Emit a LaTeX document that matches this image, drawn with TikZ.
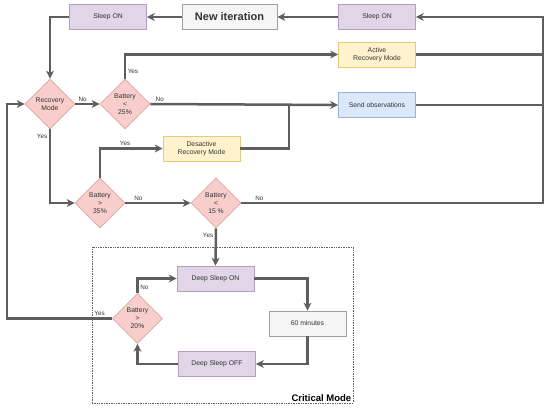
\documentclass[tikz,border=0pt]{standalone}
\usepackage{fontspec}
\setmainfont{Liberation Sans}
\usetikzlibrary{arrows.meta,positioning,calc,shapes.geometric}
\definecolor{lnclr}{HTML}{5E5E5E}
\definecolor{txclr}{HTML}{333333}
\definecolor{dmfill}{HTML}{F8CECC}
\definecolor{dmdraw}{HTML}{E0A4A0}
\definecolor{pufill}{HTML}{E1D5E7}
\definecolor{pudraw}{HTML}{B49EC4}
\definecolor{yefill}{HTML}{FFF2CC}
\definecolor{yedraw}{HTML}{E3CB7E}
\definecolor{blfill}{HTML}{DAE8FC}
\definecolor{bldraw}{HTML}{9AB2D8}
\definecolor{grfill}{HTML}{F5F5F5}
\definecolor{grdraw}{HTML}{A0A0A0}

\begin{document}
\begin{tikzpicture}[
  x=1pt,y=-1pt,
  font=\fontsize{6.8}{8}\selectfont,
  box/.style={draw,line width=0.7pt,text=txclr,minimum width=77pt,minimum height=25pt,
              align=center,inner sep=1pt},
  purp/.style={box,draw=pudraw,fill=pufill},
  yell/.style={box,draw=yedraw,fill=yefill},
  blue/.style={box,draw=bldraw,fill=blfill},
  grey/.style={box,draw=grdraw,fill=grfill},
  dec/.style={diamond,draw=dmdraw,fill=dmfill,line width=0.7pt,text=txclr,minimum width=50pt,
              minimum height=50pt,inner sep=0pt,align=center},
  ln/.style={lnclr,line width=2.5pt},
  ar/.style={ln,-{Stealth[length=8pt,width=8pt,inset=2.5pt]}},
  lbl/.style={text=txclr,inner sep=1.5pt,font=\fontsize{6.3}{7}\selectfont}
]
\useasboundingbox (0,0) rectangle (550,409);

% top row
\node[purp] (sleepa) at (108,17) {Sleep ON};
\node[grey,minimum width=95pt,font=\fontsize{11}{12}\selectfont\bfseries] (newit) at (229.5,17) {New iteration};
\node[purp] (sleepb) at (377,17) {Sleep ON};
\node[yell] (active) at (377,54.5) {Active\\Recovery Mode};
\node[blue] (send) at (377,105) {Send observations};
\node[yell] (desact) at (201.5,148.5) {Desactive\\Recovery Mode};

% decisions
\node[dec] (rec) at (50,104) {Recovery\\Mode};
\node[dec] (bat25) at (125,104) {Battery\\<\\25\%};
\node[dec] (bat35) at (100,203) {Battery\\>\\35\%};
\node[dec] (bat15) at (216,203) {Battery\\<\\15 \%};

% critical mode
\node[draw=lnclr,densely dotted,line width=0.7pt,minimum width=261pt,minimum height=156pt,inner sep=0pt]
  (crit) at (222.5,325) {};
\node[anchor=south east,font=\fontsize{9.5}{10}\selectfont\bfseries,inner sep=2pt] (critlbl)
  at (crit.south east) {Critical Mode};
\node[purp] (dson) at (215.5,278.5) {Deep Sleep ON};
\node[grey] (sixty) at (307.5,323.5) {60 minutes};
\node[purp] (dsoff) at (217,364) {Deep Sleep OFF};
\node[dec] (bat20) at (137.5,318.5) {Battery\\>\\20\%};

\coordinate (rt) at (543,17);
\coordinate (jn) at (289,105);
\coordinate (lft) at (7,104);

\draw[ar] (newit) -- (sleepa);
\draw[ar] (sleepb) -- (newit);
\draw[ar] (sleepa.west) -| (rec.north);
\draw[ar] (rec.east) -- node[lbl,above,pos=0.3] {No} (bat25.west);
\draw[ar] (bat25.north) |- node[lbl,right,pos=0.15] {Yes} (active.west);
\draw[ar] (bat25.east) -- node[lbl,above,pos=0.05] {No} (send.west);
\draw[ar] (rec.south) |- node[lbl,left,pos=0.05] {Yes} (bat35.west);
\draw[ar] (bat35.north) |- node[lbl,above,pos=0.7] {Yes} (desact.west);
\draw[ln] (desact.east) -| (jn);
\draw[ar] (bat35.east) -- node[lbl,above,pos=0.2] {No} (bat15.west);
\draw[ar] (bat15.east) -| node[lbl,above,pos=0.03] {No} (rt) -- (sleepb.east);
\draw[ln] (active.east) -- (active.east -| rt);
\draw[ln] (send.east) -- (send.east -| rt);
\draw[ar] (bat15.south) -- node[lbl,left,pos=0.2] {Yes} (dson.north);
\draw[ar] (dson.east) -| (sixty.north);
\draw[ar] (sixty.south) |- (dsoff.east);
\draw[ar] (dsoff.west) -| (bat20.south);
\draw[ar] (bat20.north) |- node[lbl,right,pos=0.2] {No} (dson.west);
\draw[ar] (bat20.west) -| node[lbl,above,pos=0.06] {Yes} (lft) -- (rec.west);
\end{tikzpicture}
\end{document}
